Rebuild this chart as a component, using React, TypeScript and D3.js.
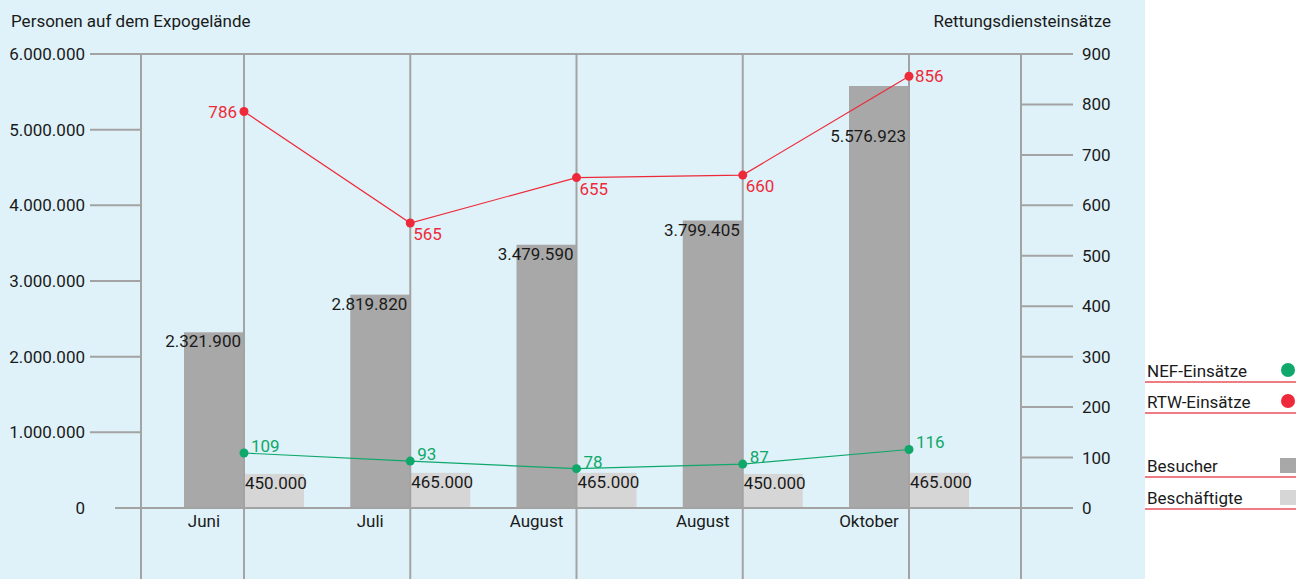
import React from 'react';
import * as d3 from 'd3';

const months = ['Juni', 'Juli', 'August', 'August', 'Oktober'];
const besucher = [2321900, 2819820, 3479590, 3799405, 5576923];
const beschaeftigte = [450000, 465000, 465000, 450000, 465000];
const rtw = [786, 565, 655, 660, 856];
const nef = [109, 93, 78, 87, 116];
const leftTicks = [0, 1000000, 2000000, 3000000, 4000000, 5000000, 6000000];
const rightTicks = [0, 100, 200, 300, 400, 500, 600, 700, 800, 900];

const W = 1296;
const H = 579;
const BG = '#dff2f9';
const GRID = '#a3a3a3';
const DARK = '#a8a8a8';
const LIGHT = '#d6d6d6';
const RED = '#ee2a3a';
const GREEN = '#0fa86a';
const TEXT = '#1a1a1a';
const FONT = 'Roboto, "Liberation Sans", sans-serif';
const FS = 17;

const de = d3.formatLocale({ decimal: ',', thousands: '.', grouping: [3], currency: ['', '€'] });
const fmt = de.format(',');

export default function App() {
  const idx = d3.range(months.length);
  const x = d3.scalePoint<number>().domain(idx).range([244, 909]);
  const yL = d3.scaleLinear().domain([0, 6000000]).range([508, 54]);
  const yR = d3.scaleLinear().domain([0, 900]).range([508, 54]);
  const barW = 60;
  const frameL = 141;
  const frameR = 1021;
  const top = yL(6000000);
  const base = yL(0);

  const lineGen = d3
    .line<number>()
    .x((d, i) => x(i)!)
    .y((d) => yR(d));

  const rtwAt = (px: number) => {
    for (let i = 0; i < rtw.length - 1; i++) {
      const x0 = x(i)!;
      const x1 = x(i + 1)!;
      if (px >= x0 && px <= x1) {
        const t = (px - x0) / (x1 - x0);
        return yR(rtw[i]) + t * (yR(rtw[i + 1]) - yR(rtw[i]));
      }
    }
    return NaN;
  };

  const legend = [
    { label: 'NEF-Einsätze', y: 377, kind: 'dot', color: GREEN },
    { label: 'RTW-Einsätze', y: 408, kind: 'dot', color: RED },
    { label: 'Besucher', y: 472, kind: 'sq', color: DARK },
    { label: 'Beschäftigte', y: 504, kind: 'sq', color: LIGHT },
  ];

  return (
    <svg
      width={W}
      height={H}
      style={{ position: 'absolute', left: 0, top: 0, display: 'block' }}
      fontFamily={FONT}
      fontSize={FS}
    >
      <rect x={0} y={0} width={W} height={H} fill="#ffffff" />
      <rect x={0} y={0} width={1145} height={H} fill={BG} />

      {/* axis titles */}
      <text x={11} y={27} fill={TEXT}>Personen auf dem Expogelände</text>
      <text x={1111} y={27} fill={TEXT} textAnchor="end">Rettungsdiensteinsätze</text>

      {/* bars */}
      {idx.map((i) => (
        <g key={'b' + i}>
          <rect x={x(i)! - barW} y={yL(besucher[i])} width={barW} height={base - yL(besucher[i])} fill={DARK} />
          <rect x={x(i)!} y={yL(beschaeftigte[i])} width={barW} height={base - yL(beschaeftigte[i])} fill={LIGHT} />
        </g>
      ))}

      {/* grid / frame lines */}
      <line x1={90} x2={1073} y1={top} y2={top} stroke={GRID} strokeWidth={2} />
      <line x1={115} x2={1073} y1={base} y2={base} stroke={GRID} strokeWidth={2} />
      {leftTicks.filter((t) => t > 0 && t < 6000000).map((t) => (
        <line key={'lt' + t} x1={90} x2={frameL} y1={yL(t)} y2={yL(t)} stroke={GRID} strokeWidth={2} />
      ))}
      {rightTicks.filter((t) => t > 0 && t < 900).map((t) => (
        <line key={'rt' + t} x1={frameR} x2={1073} y1={yR(t)} y2={yR(t)} stroke={GRID} strokeWidth={2} />
      ))}
      {[frameL, ...idx.map((i) => x(i)!), frameR].map((vx, k) => (
        <line key={'v' + k} x1={vx} x2={vx} y1={top} y2={H} stroke={GRID} strokeWidth={2} />
      ))}

      {/* tick labels */}
      {leftTicks.map((t) => (
        <text key={'ltl' + t} x={85} y={yL(t) + 6} textAnchor="end" fill={TEXT}>{fmt(t)}</text>
      ))}
      {rightTicks.map((t) => (
        <text key={'rtl' + t} x={1082} y={yR(t) + 6} fill={TEXT}>{fmt(t)}</text>
      ))}

      {/* category labels */}
      {idx.map((i) => (
        <text key={'c' + i} x={x(i)! - barW / 2 - 10} y={527} textAnchor="middle" fill={TEXT}>{months[i]}</text>
      ))}

      {/* bar value labels */}
      {idx.map((i) => {
        const bt = yL(besucher[i]);
        const ly = rtwAt(x(i)! - barW);
        const by = Math.max(bt + 15, isNaN(ly) ? -Infinity : ly + 30);
        return (
          <text key={'bl' + i} x={x(i)! - 3} y={by} textAnchor="end" fill={TEXT}>{fmt(besucher[i])}</text>
        );
      })}
      {idx.map((i) => (
        <text key={'sl' + i} x={x(i)! + 1} y={yL(beschaeftigte[i]) + 15} fill={TEXT}>{fmt(beschaeftigte[i])}</text>
      ))}

      {/* lines */}
      <path d={lineGen(rtw)!} fill="none" stroke={RED} strokeWidth={1.2} />
      <path d={lineGen(nef)!} fill="none" stroke={GREEN} strokeWidth={1.2} />
      {idx.map((i) => (
        <g key={'p' + i}>
          <circle cx={x(i)!} cy={yR(rtw[i])} r={4.5} fill={RED} />
          <circle cx={x(i)!} cy={yR(nef[i])} r={4.5} fill={GREEN} />
        </g>
      ))}

      {/* line labels */}
      {idx.map((i) => {
        const cx = x(i)!;
        const cy = yR(rtw[i]);
        const first = i === 0;
        const last = i === idx.length - 1;
        const lx = first ? cx - 7 : last ? cx + 6 : cx + 3;
        const ly = first || last ? cy + 6 : cy + 17;
        return (
          <text key={'rl' + i} x={lx} y={ly} textAnchor={first ? 'end' : 'start'} fill={RED}>{rtw[i]}</text>
        );
      })}
      {idx.map((i) => (
        <text key={'nl' + i} x={x(i)! + 7} y={yR(nef[i]) - 1} fill={GREEN}>{nef[i]}</text>
      ))}

      {/* legend */}
      {legend.map((l) => (
        <g key={l.label}>
          <text x={1147} y={l.y} fill={TEXT}>{l.label}</text>
          <line x1={1145} x2={W} y1={l.y + 5} y2={l.y + 5} stroke="#e8505a" strokeWidth={1.5} />
          {l.kind === 'dot' ? (
            <circle cx={1288} cy={l.y - 7} r={7} fill={l.color} />
          ) : (
            <rect x={1280} y={l.y - 14} width={16} height={15} fill={l.color} />
          )}
        </g>
      ))}
    </svg>
  );
}
